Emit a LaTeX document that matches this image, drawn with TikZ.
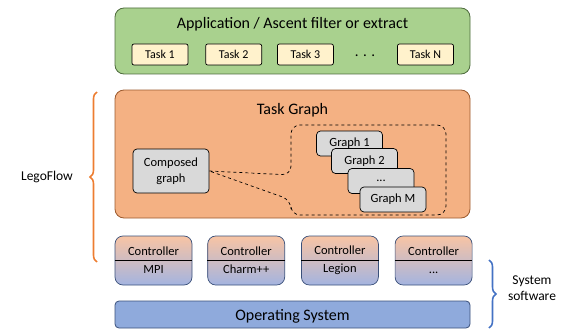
\documentclass[tikz,border=0pt]{standalone}
\usepackage{fontspec}
\setmainfont{Carlito}
\usepackage{tikz}
\usetikzlibrary{calc, positioning, decorations.pathreplacing}

\definecolor{appgreen}{HTML}{A9D18E}
\definecolor{appedge}{HTML}{4E6B3D}
\definecolor{taskfill}{HTML}{FFF2CC}
\definecolor{tgfill}{HTML}{F4B183}
\definecolor{tgedge}{HTML}{9C5A2E}
\definecolor{grayfill}{HTML}{D9D9D9}
\definecolor{ctltop}{HTML}{F8C4A4}
\definecolor{ctlbot}{HTML}{A4B4E0}
\definecolor{osfill}{HTML}{8FAADC}
\definecolor{osedge}{HTML}{3A507A}
\definecolor{braceorange}{HTML}{ED7D31}
\definecolor{braceblue}{HTML}{4472C4}

\begin{document}
\begin{tikzpicture}[x=1pt, y=-1pt,
    layer/.style={draw, rounded corners=9pt, line width=0.8pt, minimum width=355pt, inner sep=0pt},
    task/.style={draw, fill=taskfill, rounded corners=2pt, line width=0.7pt, minimum width=56pt, minimum height=21pt, inner sep=0pt, font=\fontsize{12}{14}\selectfont},
    graphbox/.style={draw, fill=grayfill, rounded corners=4pt, line width=0.7pt, minimum width=66pt, minimum height=25pt, inner sep=0pt, font=\fontsize{12.5}{14}\selectfont},
    controller/.style={draw=osedge, rounded corners=8pt, line width=0.7pt, top color=ctltop, bottom color=ctlbot, minimum width=77pt, minimum height=49pt, inner sep=0pt, align=center, font=\fontsize{12.5}{18}\selectfont},
    lbrace/.style={decorate, decoration={brace, amplitude=7pt}, line width=1.6pt},
    node distance=16pt]
  \useasboundingbox (0,0) rectangle (573,329);

  % application layer
  \node[layer, fill=appgreen, draw=appedge, minimum height=66pt] (app) at (292.5,41) {};
  \node[font=\fontsize{16}{18}\selectfont] (apptitle) at (292.5,24) {Application / Ascent filter or extract};
  \node[task] (t1) at (160,54.5) {Task 1};
  \node[task, right=17pt of t1] (t2) {Task 2};
  \node[task, right=15pt of t2] (t3) {Task 3};
  \node[task] (tn) at (425.5,54.5) {Task N};
  \node[font=\fontsize{15}{16}\selectfont] (tdots) at (365,56) {. . .};

  % task graph layer
  \node[layer, fill=tgfill, draw=tgedge, minimum height=128pt] (tg) at (292.5,154) {};
  \node[font=\fontsize{16}{18}\selectfont] (tgtitle) at (292.5,110) {Task Graph};
  \node[graphbox, minimum width=76pt, minimum height=44pt, align=center, font=\fontsize{12.5}{16}\selectfont] (cg) at (171,171) {Composed\\graph};
  \node[graphbox] (g1) at (349.5,143.5) {Graph 1};
  \node[graphbox] (g2) at (364.5,161) {Graph 2};
  \node[graphbox] (g3) at (381,181) {...};
  \node[graphbox] (gm) at (393,199.5) {Graph M};
  \draw[dashed, line width=0.7pt, rounded corners=9pt]
    (cg.east) -- (291,175) -- (291,125) -- (446,125) -- (446,215) -- (291,215) -- (291,200) -- (cg.east);

  % controllers
  \node[controller] (c1) at (153.5,260.5) {Controller\\MPI};
  \node[controller, right=15pt of c1] (c2) {Controller\\Charm++};
  \node[controller, right=16pt of c2] (c3) {Controller\\Legion};
  \node[controller, right=16pt of c3] (c4) {Controller\\...};
  \foreach \c in {c1,c2,c3,c4}
    \draw[line width=0.8pt] (\c.west) -- (\c.east);

  % operating system
  \node[layer, fill=osfill, draw=osedge, minimum height=27pt, rounded corners=4pt] (os) at (292.5,314.5) {};
  \node[font=\fontsize{16}{18}\selectfont] (ostitle) at (292.5,316) {Operating System};

  % braces
  \coordinate (lfbot) at (97,262);
  \coordinate (lftop) at (97,92);
  \draw[lbrace, braceorange] (lfbot) -- (lftop);
  \node[font=\fontsize{13.5}{15}\selectfont] (lego) at (47,177) {LegoFlow};
  \coordinate (sstop) at (489,260);
  \coordinate (ssbot) at (489,328);
  \draw[lbrace, braceblue] (sstop) -- (ssbot);
  \node[align=center, font=\fontsize{13.5}{16}\selectfont] (sys) at (532,288) {System\\software};
\end{tikzpicture}
\end{document}
